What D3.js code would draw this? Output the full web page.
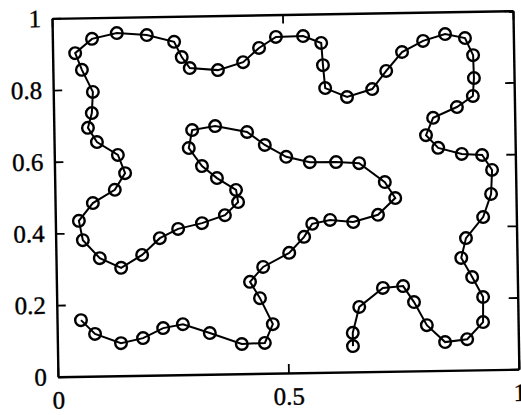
<!DOCTYPE html>
<html>
<head>
<meta charset="utf-8">
<script src="https://cdn.jsdelivr.net/npm/d3@7"></script>
<style>
  html, body { margin: 0; padding: 0; background: #fff; }
  svg { display: block; }
  .tick text { font-family: "Liberation Serif", "DejaVu Serif", serif; font-size: 25px; fill: #000; stroke: #000; stroke-width: 0.4px; }
</style>
</head>
<body>
<svg id="chart" width="521" height="415"></svg>
<script>
// Path through the points, in order (x and y values in data units)
const pathX = [0.641,0.641,0.656,0.708,0.752,0.775,0.802,0.841,0.889,0.924,
  0.925,0.902,0.879,0.890,0.928,0.946,0.949,0.928,0.884,0.833,
  0.807,0.823,0.875,0.910,0.913,0.912,0.895,0.852,0.804,0.758,
  0.723,0.692,0.637,0.590,0.586,0.583,0.544,0.485,0.448,0.413,
  0.358,0.297,0.280,0.264,0.205,0.140,0.086,0.049,0.063,0.086,
  0.083,0.074,0.093,0.138,0.153,0.130,0.082,0.051,0.059,0.095,
  0.141,0.187,0.226,0.266,0.318,0.368,0.397,0.393,0.352,0.320,
  0.292,0.300,0.350,0.419,0.457,0.503,0.554,0.611,0.661,0.716,
  0.738,0.700,0.646,0.596,0.557,0.539,0.506,0.449,0.420,0.441,
  0.468,0.450,0.400,0.331,0.273,0.230,0.186,0.138,0.082,0.052];
const pathY = [0.072,0.109,0.181,0.233,0.237,0.192,0.127,0.079,0.086,0.133,
  0.203,0.259,0.313,0.368,0.426,0.490,0.557,0.599,0.603,0.621,
  0.657,0.705,0.734,0.764,0.814,0.878,0.926,0.938,0.920,0.890,
  0.838,0.788,0.767,0.793,0.857,0.919,0.939,0.938,0.908,0.869,
  0.848,0.855,0.886,0.929,0.949,0.956,0.941,0.902,0.855,0.793,
  0.734,0.693,0.653,0.616,0.565,0.519,0.483,0.434,0.380,0.329,
  0.301,0.336,0.382,0.407,0.422,0.443,0.479,0.513,0.547,0.581,
  0.632,0.682,0.692,0.674,0.637,0.603,0.587,0.586,0.582,0.528,
  0.483,0.437,0.418,0.425,0.415,0.379,0.335,0.297,0.256,0.210,
  0.137,0.085,0.083,0.115,0.141,0.131,0.104,0.091,0.118,0.157];
const xTicks = [0, 0.5, 1];
const yTicks = [0, 0.2, 0.4, 0.6, 0.8, 1];
const xTickLabels = ["0", "0.5", "1"];
const yTickLabels = ["0", "0.2", "0.4", "0.6", "0.8", "1"];

const svg = d3.select("#chart");
const plotLeft = 55, plotRight = 516, plotTop = 14.5, plotBottom = 373;

const x = d3.scaleLinear().domain([0, 1]).range([plotLeft, plotRight]);
const y = d3.scaleLinear().domain([0, 1]).range([plotBottom, plotTop]);

// the scanned original is slightly rotated
const g = svg.append("g").attr("transform", "rotate(-0.95, 287, 197)");

const axisStyle = sel => {
  sel.select(".domain").attr("stroke", "#000").attr("stroke-width", 2.4);
  sel.selectAll(".tick line").attr("stroke", "#000").attr("stroke-width", 1.8);
};

g.append("g").attr("transform", `translate(0,${plotBottom})`)
  .call(d3.axisBottom(x).tickValues(xTicks).tickSize(-9).tickSizeOuter(0).tickPadding(14)
    .tickFormat((d, i) => xTickLabels[i]))
  .call(axisStyle);

g.append("g").attr("transform", `translate(0,${plotTop})`)
  .call(d3.axisTop(x).tickValues(xTicks).tickSize(-9).tickSizeOuter(0).tickFormat(""))
  .call(axisStyle);

g.append("g").attr("transform", `translate(${plotLeft},0)`)
  .call(d3.axisLeft(y).tickValues(yTicks).tickSize(-9).tickSizeOuter(0).tickPadding(11)
    .tickFormat((d, i) => yTickLabels[i]))
  .call(axisStyle);

g.append("g").attr("transform", `translate(${plotRight},0)`)
  .call(d3.axisRight(y).tickValues(yTicks).tickSize(-9).tickSizeOuter(0).tickFormat(""))
  .call(axisStyle);

const pts = pathX.map((v, i) => [v, pathY[i]]);

g.append("path")
  .datum(pts)
  .attr("fill", "none")
  .attr("stroke", "#000")
  .attr("stroke-width", 2)
  .attr("d", d3.line().x(d => x(d[0])).y(d => y(d[1])));

g.append("g").selectAll("circle")
  .data(pts)
  .join("circle")
  .attr("cx", d => x(d[0]))
  .attr("cy", d => y(d[1]))
  .attr("r", 5.8)
  .attr("fill", "none")
  .attr("stroke", "#000")
  .attr("stroke-width", 2.4);
</script>
</body>
</html>
